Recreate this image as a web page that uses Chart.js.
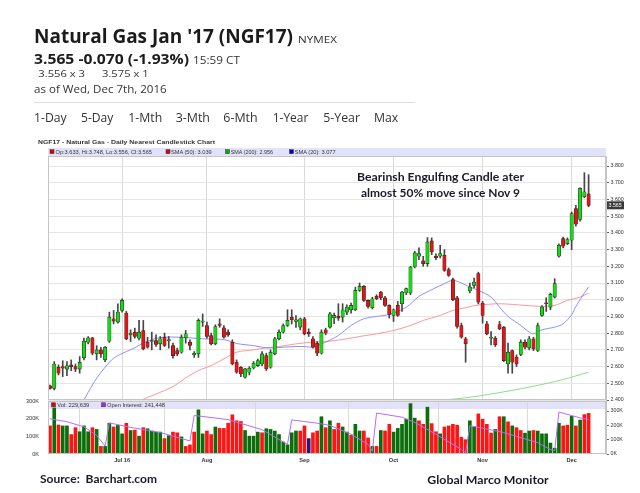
<!DOCTYPE html>
<html><head><meta charset="utf-8">
<script src="https://cdn.jsdelivr.net/npm/chart.js@4.4.1/dist/chart.umd.min.js"></script>
<style>
html,body{margin:0;padding:0;background:#fff;}
body{width:640px;height:493px;overflow:hidden;position:relative;}
.abs{position:absolute;left:0;}
#band1{position:absolute;left:48px;top:147.7px;width:558px;height:8px;background:#e2e2fa;}
#band2{position:absolute;left:48px;top:400px;width:558px;height:8.5px;background:#e2e2fa;}
#price{position:absolute;left:0;top:136px;}
#vol{position:absolute;left:0;top:395px;}
#txt{position:absolute;left:0;top:0;}
</style></head><body>
<div id="band1"></div><div id="band2"></div>
<canvas id="price" width="640" height="272"></canvas>
<canvas id="vol" width="640" height="75"></canvas>
<svg id="txt" width="640" height="493" xmlns="http://www.w3.org/2000/svg">
 <g font-family="'Open Sans', sans-serif">
  <text x="34" y="42.7" font-size="19" font-weight="700" fill="#1b1b1b" textLength="259" lengthAdjust="spacingAndGlyphs">Natural Gas Jan '17 (NGF17)</text>
  <text x="298" y="42.7" font-size="9.5" fill="#333" textLength="39" lengthAdjust="spacingAndGlyphs">NYMEX</text>
  <text x="34" y="64" font-size="15" font-weight="700" fill="#1b1b1b" textLength="155" lengthAdjust="spacingAndGlyphs">3.565 -0.070 (-1.93%)</text>
  <text x="193" y="64" font-size="10.5" fill="#333" textLength="47" lengthAdjust="spacingAndGlyphs">15:59 CT</text>
  <text x="38.3" y="77.3" font-size="9.5" fill="#333" textLength="46.7" lengthAdjust="spacingAndGlyphs">3.556 x 3</text>
  <text x="102" y="77.3" font-size="9.5" fill="#333" textLength="46.7" lengthAdjust="spacingAndGlyphs">3.575 x 1</text>
  <text x="34" y="93.3" font-size="10.5" fill="#333" textLength="132.7" lengthAdjust="spacingAndGlyphs">as of Wed, Dec 7th, 2016</text>
  <line x1="34" y1="102.5" x2="415" y2="102.5" stroke="#dcdcdc" stroke-width="1"/>
  <g font-size="12.5" fill="#333">
   <text x="34" y="121.7" textLength="32.7" lengthAdjust="spacingAndGlyphs">1-Day</text>
   <text x="81" y="121.7" textLength="32.3" lengthAdjust="spacingAndGlyphs">5-Day</text>
   <text x="128.3" y="121.7" textLength="34" lengthAdjust="spacingAndGlyphs">1-Mth</text>
   <text x="175.7" y="121.7" textLength="34.3" lengthAdjust="spacingAndGlyphs">3-Mth</text>
   <text x="223.3" y="121.7" textLength="34.3" lengthAdjust="spacingAndGlyphs">6-Mth</text>
   <text x="272.7" y="121.7" textLength="35.7" lengthAdjust="spacingAndGlyphs">1-Year</text>
   <text x="323.3" y="121.7" textLength="36.7" lengthAdjust="spacingAndGlyphs">5-Year</text>
   <text x="374" y="121.7" textLength="24.3" lengthAdjust="spacingAndGlyphs">Max</text>
  </g>
 </g>
 <g font-family="'Liberation Sans', Arial, sans-serif" fill="#333">
  <text x="38" y="143.6" font-size="6" font-weight="700" textLength="177" lengthAdjust="spacingAndGlyphs">NGF17 - Natural Gas - Daily Nearest Candlestick Chart</text>
  <g font-size="5.3">
   <rect x="50" y="149.7" width="4" height="4" fill="#e00000" stroke="#333" stroke-width="0.5"/>
   <text x="55.5" y="153.6" textLength="96.5" lengthAdjust="spacingAndGlyphs">Op:3.633, Hi:3.748, Lo:3.556, Cl:3.565</text>
   <rect x="166" y="149.7" width="4" height="4" fill="#e00000" stroke="#333" stroke-width="0.5"/>
   <text x="171" y="153.6" textLength="40.7" lengthAdjust="spacingAndGlyphs">SMA (50): 3.039</text>
   <rect x="225.5" y="149.7" width="4" height="4" fill="#00b000" stroke="#333" stroke-width="0.5"/>
   <text x="230.7" y="153.6" textLength="42.3" lengthAdjust="spacingAndGlyphs">SMA (200): 2.956</text>
   <rect x="289.5" y="149.7" width="4" height="4" fill="#0000d0" stroke="#333" stroke-width="0.5"/>
   <text x="294.7" y="153.6" textLength="41" lengthAdjust="spacingAndGlyphs">SMA (20): 3.077</text>
   <rect x="51.5" y="402.8" width="4" height="4" fill="#e00000" stroke="#333" stroke-width="0.5"/>
   <text x="57.3" y="406.7" textLength="32" lengthAdjust="spacingAndGlyphs">Vol: 229,639</text>
   <rect x="101.5" y="402.8" width="4" height="4" fill="#9a30e0" stroke="#333" stroke-width="0.5"/>
   <text x="107" y="406.7" textLength="58" lengthAdjust="spacingAndGlyphs">Open Interest: 241,448</text>
  </g>
 </g>
 <g font-family="Lato, 'Liberation Sans', sans-serif" font-weight="700" fill="#1a1a2a" font-size="11.5">
  <text x="357" y="180.7" textLength="167" lengthAdjust="spacingAndGlyphs">Bearinsh Engulfing Candle ater</text>
  <text x="361" y="196.7" textLength="159" lengthAdjust="spacingAndGlyphs">almost 50% move since Nov 9</text>
  <text x="40" y="483" textLength="117" lengthAdjust="spacingAndGlyphs" xml:space="preserve">Source:  Barchart.com</text>
  <text x="427.3" y="484" textLength="121.4" lengthAdjust="spacingAndGlyphs">Global Marco Monitor</text>
 </g>
</svg>
<script>
// ---------- DATA ----------
const dates = [
 '06/08','06/09','06/10','06/13','06/14','06/15','06/16','06/17','06/20','06/21','06/22','06/23','06/24','06/27','06/28','06/29','06/30',
 '07/01','07/05','07/06','07/07','07/08','07/11','07/12','07/13','07/14','07/15','07/18','07/19','07/20','07/21','07/22','07/25','07/26','07/27','07/28','07/29',
 '08/01','08/02','08/03','08/04','08/05','08/08','08/09','08/10','08/11','08/12','08/15','08/16','08/17','08/18','08/19','08/22','08/23','08/24','08/25','08/26','08/29','08/30','08/31',
 '09/01','09/02','09/06','09/07','09/08','09/09','09/12','09/13','09/14','09/15','09/16','09/19','09/20','09/21','09/22','09/23','09/26','09/27','09/28','09/29','09/30',
 '10/03','10/04','10/05','10/06','10/07','10/10','10/11','10/12','10/13','10/14','10/17','10/18','10/19','10/20','10/21','10/24','10/25','10/26','10/27','10/28','10/31',
 '11/01','11/02','11/03','11/04','11/07','11/08','11/09','11/10','11/11','11/14','11/15','11/16','11/17','11/18','11/21','11/22','11/23','11/25','11/28','11/29','11/30',
 '12/01','12/02','12/05','12/06','12/07'
];
const open = [
 2.485,2.47,2.595,2.60,2.585,2.61,2.60,2.585,2.652,2.746,
 2.772,2.676,2.70,2.64,2.752,2.886,2.866,2.936,2.92,2.79,
 2.806,2.77,2.816,2.746,2.75,2.756,2.736,2.776,2.755,2.726,
 2.696,2.686,2.772,2.746,2.67,2.676,2.865,2.846,2.786,2.736,
 2.856,2.832,2.806,2.746,2.626,2.596,2.536,2.566,2.592,2.606,
 2.616,2.666,2.596,2.676,2.766,2.806,2.846,2.896,2.87,2.836,
 2.886,2.806,2.766,2.74,2.68,2.82,2.836,2.892,2.90,2.896,
 2.926,2.94,2.94,3.056,3.08,2.996,2.952,3.02,3.046,3.012,
 2.966,2.906,2.966,2.976,3.04,3.04,3.196,3.26,3.232,3.216,
 3.352,3.26,3.26,3.266,3.18,3.12,3.012,2.846,2.766,3.052,
 3.086,3.156,2.98,2.856,2.77,2.77,2.852,2.836,2.616,2.696,
 2.656,2.672,2.746,2.712,2.766,2.696,2.906,2.98,2.956,3.016,
 3.26,3.366,3.336,3.356,3.546,3.48,3.616,3.633
];
const high = [
 2.49,2.63,2.61,2.635,2.63,2.64,2.615,2.66,2.77,2.78,
 2.775,2.725,2.715,2.72,2.926,2.936,2.976,3.005,2.93,2.82,
 2.83,2.876,2.876,2.775,2.806,2.79,2.78,2.80,2.78,2.74,
 2.71,2.79,2.816,2.76,2.69,2.886,2.915,2.866,2.80,2.85,
 2.886,2.845,2.82,2.76,2.64,2.60,2.59,2.60,2.63,2.645,
 2.69,2.68,2.70,2.775,2.82,2.855,2.94,2.94,2.905,2.89,
 2.895,2.826,2.78,2.75,2.82,2.83,2.925,2.92,2.976,2.976,
 2.97,2.98,3.075,3.10,3.085,3.00,3.015,3.03,3.05,3.02,
 2.97,2.945,2.99,3.05,3.07,3.20,3.29,3.31,3.26,3.372,
 3.37,3.275,3.326,3.30,3.19,3.13,3.02,2.86,2.775,3.10,
 3.13,3.165,2.99,2.87,2.81,2.78,2.87,2.84,2.74,2.70,
 2.67,2.76,2.76,2.78,2.775,2.86,2.965,3.012,3.04,3.126,
 3.335,3.375,3.37,3.525,3.565,3.67,3.76,3.748
];
const low = [
 2.465,2.46,2.55,2.54,2.545,2.575,2.57,2.56,2.64,2.735,
 2.67,2.64,2.655,2.63,2.745,2.855,2.86,2.925,2.76,2.75,
 2.77,2.76,2.70,2.71,2.70,2.72,2.70,2.72,2.71,2.65,
 2.665,2.68,2.74,2.70,2.655,2.655,2.84,2.77,2.73,2.73,
 2.835,2.77,2.78,2.61,2.56,2.54,2.53,2.55,2.585,2.60,
 2.605,2.576,2.59,2.67,2.76,2.80,2.84,2.855,2.835,2.82,
 2.79,2.78,2.71,2.665,2.675,2.79,2.83,2.856,2.876,2.866,
 2.91,2.92,2.935,3.05,2.99,2.95,2.945,3.0,3.0,2.96,
 2.89,2.87,2.90,2.93,3.03,3.03,3.19,3.24,3.20,3.20,
 3.27,3.24,3.25,3.17,3.14,2.995,2.83,2.77,2.626,3.04,
 3.07,2.975,2.86,2.79,2.73,2.72,2.82,2.63,2.56,2.56,
 2.60,2.665,2.705,2.70,2.695,2.69,2.90,2.93,2.94,3.01,
 3.255,3.31,3.33,3.30,3.44,3.47,3.61,3.556
];
const close = [
 2.47,2.615,2.56,2.59,2.605,2.60,2.585,2.625,2.752,2.772,
 2.68,2.70,2.675,2.716,2.896,2.872,2.926,2.996,2.766,2.80,
 2.78,2.806,2.706,2.716,2.755,2.732,2.766,2.726,2.76,2.666,
 2.676,2.776,2.796,2.726,2.68,2.876,2.872,2.78,2.736,2.84,
 2.846,2.776,2.79,2.616,2.566,2.556,2.586,2.59,2.62,2.636,
 2.676,2.586,2.686,2.766,2.806,2.846,2.876,2.88,2.88,2.886,
 2.796,2.796,2.716,2.68,2.806,2.80,2.916,2.906,2.89,2.94,
 2.956,2.966,3.056,3.08,2.996,2.96,3.006,3.006,3.012,2.966,
 2.912,2.94,2.906,3.046,3.066,3.196,3.28,3.276,3.216,3.346,
 3.286,3.252,3.276,3.176,3.146,3.0,2.84,2.776,2.736,3.076,
 3.106,2.985,2.906,2.796,2.775,2.73,2.826,2.636,2.686,2.626,
 2.616,2.746,2.716,2.766,2.706,2.846,2.956,2.976,3.032,3.096,
 3.326,3.32,3.36,3.516,3.452,3.666,3.646,3.565
];
// volume in thousands of contracts
const volume = [
 159,261,164,159,159,110,149,126,159,126,
 149,139,43,43,174,153,162,114,174,133,
 135,101,149,143,130,124,124,87,104,124,
 120,97,43,52,124,250,114,130,110,153,
 145,145,174,222,188,184,133,101,101,124,
 120,143,139,130,110,68,52,120,130,130,
 159,87,120,130,211,149,188,139,174,153,
 124,106,168,130,130,91,43,43,133,130,
 168,124,145,168,197,285,203,188,168,265,
 172,126,114,153,159,168,163,95,81,188,
 153,227,197,168,118,139,211,211,182,159,
 149,133,118,130,133,130,114,114,62,33,
 174,159,163,213,159,192,223,230
];
// volume bar direction: r = down, g = up, n = unchanged
const volDir = 'rgrggrrggg'+'rgrggrggrg'+'rgrggggrgr'+'rgrrrggrrg'+'rrrrrrgggg'+'rggggggggr'+
               'rnrrgrgrrg'+'grggrrgrgr'+'rggggggrrg'+'rrgrrrrrrg'+'grrrrgrgrg'+'rrggrggggg'+'grrgrgrr';
// readings [bar number, value]
const sma20 = [[7,2.36],[8,2.40],[10,2.49],[11,2.53],[13,2.596],[15,2.65],[18,2.69],[20,2.712],[22,2.742],[25,2.768],
 [27,2.776],[30,2.776],[33,2.772],[36,2.766],[40,2.764],[42,2.756],[44,2.738],[48,2.725],[51,2.712],[53,2.712],
 [55,2.716],[58,2.72],[60,2.72],[62,2.716],[64,2.735],[66,2.758],[68,2.786],[71,2.846],[74,2.886],[77,2.90],
 [80,2.912],[84,2.955],[87,3.02],[90,3.06],[93,3.096],[95,3.116],[97,3.10],[99,3.076],[101,3.056],[104,3.016],
 [106,2.956],[108,2.90],[111,2.846],[113,2.806],[114,2.796],[116,2.82],[119,2.836],[121,2.856],[123,2.91],[124,2.96],
 [126,3.04],[127,3.077]];
const sma50 = [[20,2.385],[21,2.395],[25,2.436],[29,2.48],[32,2.532],[35,2.576],[38,2.606],[41,2.646],[44,2.686],[48,2.70],
 [51,2.712],[54,2.72],[57,2.732],[60,2.742],[63,2.748],[66,2.752],[70,2.766],[73,2.78],[77,2.796],[81,2.816],
 [85,2.846],[88,2.876],[92,2.906],[95,2.936],[98,2.952],[100,2.965],[103,2.972],[106,2.976],[109,2.972],[112,2.966],
 [116,2.96],[119,2.966],[122,2.996],[125,3.016],[127,3.039]];
const sma200 = [[86,2.392],[90,2.398],[95,2.405],[100,2.42],[105,2.44],[112,2.472],[120,2.516],[127,2.566]];
const openInterest = [[0,246],[4,225],[8,190],[11,130],[13,55],[14,217],[19,186],[26,150],[33,91],[34,269],
 [42,240],[50,170],[56,67],[57,238],[63,215],[66,200],[71,138],[75,67],[76,19],[77,286],
 [83,257],[86,221],[91,138],[97,31],[98,10],[99,198],[107,150],[115,79],[118,31],[119,25],
 [120,293],[125,252],[127,241]];
const priceTicks = ['2.400','2.500','2.600','2.700','2.800','2.900','3.000','3.100','3.200','3.300','3.400','3.500','3.600','3.700','3.800'];
const volTicks = ['0K','100K','200K','300K'];
const monthLabels = ['Jul 16','Aug','Sep','Oct','Nov','Dec'];
const monthStarts = ['07/01','08/01','09/01','10/03','11/01','12/01'];

// ---------- BUILD ----------
const N = dates.length;
const idx = dates.map((d,i)=>i);
const monthIdx = monthStarts.map(d=>dates.indexOf(d));
const XMIN = -0.47, XMAX = 131.1;
const tickFont = {family:"'Liberation Sans', Arial, sans-serif", size:5.3};

const frame = {id:'frame', afterDraw(c){
  const a=c.chartArea, x=c.ctx; x.save(); x.strokeStyle='#c4c4c4'; x.lineWidth=1;
  x.strokeRect(Math.round(a.left)+0.5, Math.round(a.top)+0.5, Math.round(a.right-a.left)-1, Math.round(a.bottom-a.top)-1);
  x.restore();
}};
const marker = {id:'marker', afterDraw(c){
  const a=c.chartArea, x=c.ctx, v=close[N-1], y=c.scales.y.getPixelForValue(v);
  x.save(); x.fillStyle='#3a3a3a'; x.fillRect(a.right+1, y-4, 17, 8);
  x.fillStyle='#fff'; x.font="5.3px 'Liberation Sans', Arial"; x.textBaseline='middle';
  x.fillText(v.toFixed(3), a.right+2.5, y+0.3); x.restore();
}};

const monthTickBuilder = s => { s.ticks = monthIdx.map(v=>({value:v})); };

new Chart(document.getElementById('price'), {
  type:'bar',
  data:{datasets:[
    {type:'line', data:sma200.map(([i,v])=>({x:i,y:v})), borderColor:'rgba(110,215,110,0.8)', borderWidth:1, pointRadius:0, tension:0.3, order:6},
    {type:'line', data:sma50.map(([i,v])=>({x:i,y:v})), borderColor:'rgba(255,125,125,0.8)', borderWidth:1, pointRadius:0, tension:0.3, order:5},
    {type:'line', data:sma20.map(([i,v])=>({x:i,y:v})), borderColor:'rgba(115,115,255,0.8)', borderWidth:1, pointRadius:0, tension:0.3, order:4},
    {data:idx.map(i=>({x:i,y:[low[i],high[i]]})), backgroundColor:'#454545', barThickness:1, grouped:false, order:2},
    {data:idx.map(i=>({x:i,y:[open[i],close[i]]})), backgroundColor:idx.map(i=>close[i]>=open[i]?'#12dc12':'#e81212'),
     borderColor:'#2a2a2a', borderWidth:0.6, borderSkipped:false, barThickness:3.4, minBarLength:1, grouped:false, order:1}
  ]},
  options:{
    responsive:false, animation:false, devicePixelRatio:1,
    layout:{padding:{left:48, top:20, right:0, bottom:0}},
    plugins:{legend:{display:false}, tooltip:{enabled:false}},
    scales:{
      x:{type:'linear', min:XMIN, max:XMAX, offset:false, afterBuildTicks:monthTickBuilder,
         ticks:{display:false}, grid:{color:'#d9d9d9', drawTicks:false, offset:false}, border:{display:false},
         afterFit:s=>{s.height=8;}},
      y:{position:'right', min:2.4, max:3.86,
         afterBuildTicks:s=>{s.ticks=priceTicks.map(t=>({value:parseFloat(t)}));},
         ticks:{callback:(v,i)=>priceTicks[i], font:tickFont, color:'#333', padding:1.5},
         grid:{color:'#e6e6e6', tickColor:'#666', tickLength:3}, border:{color:'#c4c4c4'},
         afterFit:s=>{s.width=34;}}
    }
  },
  plugins:[frame, marker]
});

new Chart(document.getElementById('vol'), {
  type:'bar',
  data:{datasets:[
    {type:'line', yAxisID:'yr', data:openInterest.map(([i,v])=>({x:i,y:v})), borderColor:'#b46cff', borderWidth:1, pointRadius:0, order:0},
    {yAxisID:'yl', data:idx.map(i=>({x:i,y:volume[i]})),
     backgroundColor:idx.map(i=>({r:'#ff1414',g:'#0b6e0b',n:'#1a1a88'})[volDir[i]]), barThickness:3, grouped:false, order:1}
  ]},
  options:{
    responsive:false, animation:false, devicePixelRatio:1,
    layout:{padding:{left:0, top:6, right:0, bottom:0}},
    plugins:{legend:{display:false}, tooltip:{enabled:false}},
    scales:{
      x:{type:'linear', min:XMIN, max:XMAX, offset:false, afterBuildTicks:monthTickBuilder,
         ticks:{callback:(v,i)=>monthLabels[i], font:{family:tickFont.family, size:5.6, weight:'bold'}, color:'#333', padding:3, autoSkip:false, maxRotation:0},
         grid:{color:'#d9d9d9', drawTicks:false}, border:{display:false},
         afterFit:s=>{s.height=16;}},
      yl:{position:'left', min:0, max:300,
         afterBuildTicks:s=>{s.ticks=volTicks.map((t,i)=>({value:i*100}));},
         ticks:{callback:(v,i)=>volTicks[i], font:{family:tickFont.family, size:5.6}, color:'#333', padding:1},
         grid:{display:false}, border:{display:false},
         afterFit:s=>{s.width=48;}},
      yr:{position:'right', min:0, max:370,
         afterBuildTicks:s=>{s.ticks=volTicks.map((t,i)=>({value:i*100}));},
         ticks:{callback:(v,i)=>volTicks[i], font:tickFont, color:'#333', padding:1.5},
         grid:{drawOnChartArea:false, tickColor:'#666', tickLength:3}, border:{color:'#c4c4c4'},
         afterFit:s=>{s.width=34;}}
    }
  },
  plugins:[frame]
});
</script>
</body></html>
